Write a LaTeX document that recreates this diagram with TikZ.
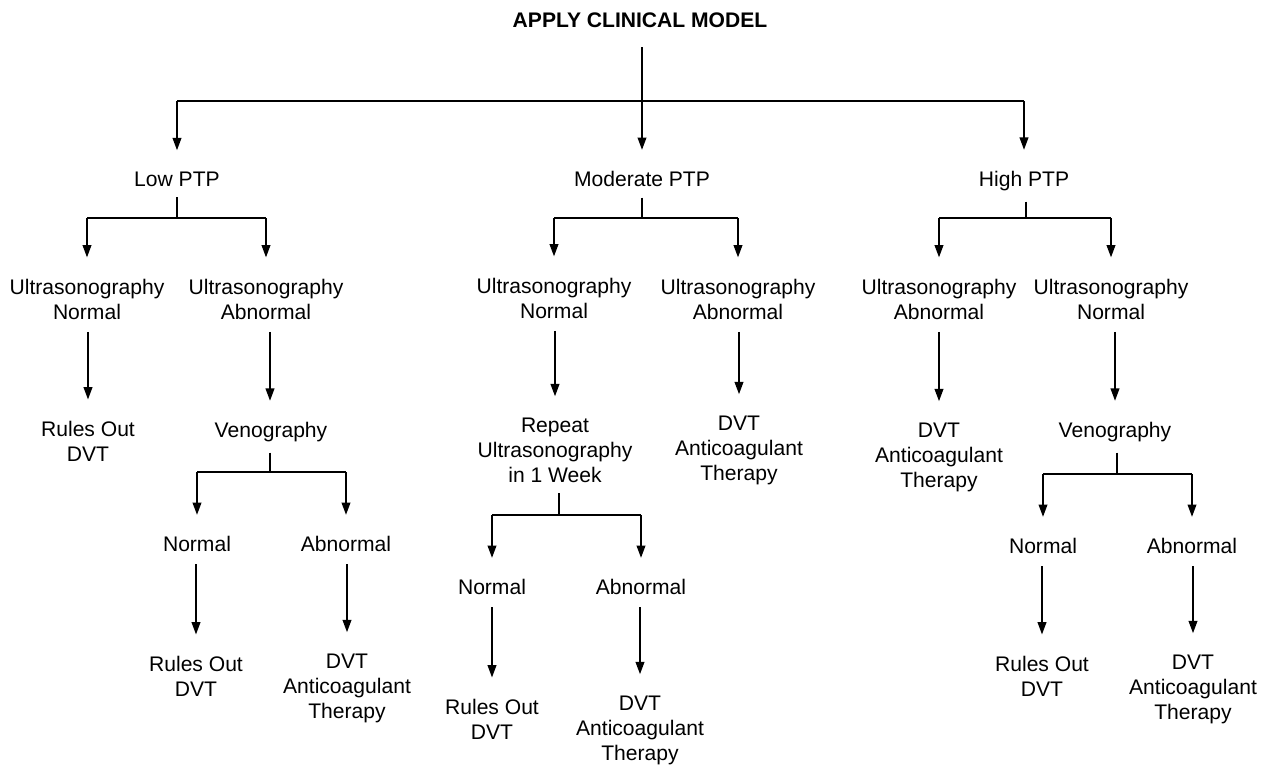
\documentclass[tikz,border=0pt]{standalone}
\usepackage{fontspec}
\setmainfont{Liberation Sans}
\usetikzlibrary{arrows.meta}
\begin{document}
\begin{tikzpicture}[x=0.02cm,y=-0.02cm,
  lbl/.style={align=center,inner sep=0pt,font=\fontsize{12}{14.2}\selectfont},
  ttl/.style={align=center,inner sep=0pt,font=\fontsize{12}{14.2}\selectfont\bfseries},
  ln/.style={line width=0.8pt},
  arr/.style={ln,-{Triangle[length=7pt,width=5pt]},shorten >=12pt},
  stem/.style={ln,shorten <=6pt}]
\useasboundingbox (0,0) rectangle (1272,767);

% nodes
\node[ttl] (title) at (640,20) {APPLY CLINICAL MODEL};
\node[lbl] (low) at (177,179) {Low PTP};
\node[lbl] (mod) at (642,179) {Moderate PTP};
\node[lbl] (high) at (1024,181) {High PTP};

\node[lbl] (lun) at (87,299) {Ultrasonography\\Normal};
\node[lbl] (lua) at (266,299) {Ultrasonography\\Abnormal};
\node[lbl] (mun) at (554,298) {Ultrasonography\\Normal};
\node[lbl] (mua) at (738,299) {Ultrasonography\\Abnormal};
\node[lbl] (hua) at (939,299) {Ultrasonography\\Abnormal};
\node[lbl] (hun) at (1111,299) {Ultrasonography\\Normal};

\node[lbl] (lro) at (88,441) {Rules Out\\DVT};
\node[lbl] (lven) at (271,432) {Venography};
\node[lbl] (mrep) at (555,450) {Repeat\\Ultrasonography\\in 1 Week};
\node[lbl] (mdvt) at (739,450) {DVT\\Anticoagulant\\Therapy};
\node[lbl] (hdvt) at (939,457) {DVT\\Anticoagulant\\Therapy};
\node[lbl] (hven) at (1115,432) {Venography};

\node[lbl] (lvn) at (197,544) {Normal};
\node[lbl] (lva) at (346,544) {Abnormal};
\node[lbl] (mrn) at (492,587) {Normal};
\node[lbl] (mra) at (641,587) {Abnormal};
\node[lbl] (hvn) at (1043,546) {Normal};
\node[lbl] (hva) at (1192,546) {Abnormal};

\node[lbl] (lvro) at (196,676) {Rules Out\\DVT};
\node[lbl] (lvd) at (347,688) {DVT\\Anticoagulant\\Therapy};
\node[lbl] (mrro) at (492,719) {Rules Out\\DVT};
\node[lbl] (mrd) at (640,730) {DVT\\Anticoagulant\\Therapy};
\node[lbl] (hvro) at (1042,676) {Rules Out\\DVT};
\node[lbl] (hvd) at (1193,689) {DVT\\Anticoagulant\\Therapy};

% branch points
\coordinate (b0) at (642,101);
\coordinate (bl) at (177,218);
\coordinate (bm) at (642,218);
\coordinate (bh) at (1026,218);
\coordinate (blv) at (270,472);
\coordinate (bmr) at (559,515);
\coordinate (bhv) at (1117,474);

% top level
\draw[ln,shorten <=11pt] (title.south -| b0) -- (b0);
\draw[ln] (low |- b0) -- (high |- b0);
\draw[arr] (low |- b0) -- (low.north);
\draw[arr] (b0) -- (mod.north -| b0);
\draw[arr] (high |- b0) -- (high.north);

% low branch
\draw[stem] (low.south) -- (bl);
\draw[ln] (lun |- bl) -- (lua |- bl);
\draw[arr] (lun |- bl) -- (lun.north);
\draw[arr] (lua |- bl) -- (lua.north);
\draw[arr,shorten <=7pt] (lun.south -| lro) -- (lro.north);
\draw[arr,shorten <=7pt] (lua.south -| blv) -- (lven.north -| blv);
\draw[stem] (lven.south -| blv) -- (blv);
\draw[ln] (lvn |- blv) -- (lva |- blv);
\draw[arr] (lvn |- blv) -- (lvn.north);
\draw[arr] (lva |- blv) -- (lva.north);
\draw[arr,shorten <=7pt] (lvn.south -| lvro) -- (lvro.north);
\draw[arr,shorten <=7pt] (lva.south -| lvd) -- (lvd.north);

% moderate branch
\draw[stem] (mod.south -| bm) -- (bm);
\draw[ln] (mun |- bm) -- (mua |- bm);
\draw[arr] (mun |- bm) -- (mun.north);
\draw[arr] (mua |- bm) -- (mua.north);
\draw[arr,shorten <=7pt] (mun.south -| mrep) -- (mrep.north);
\draw[arr,shorten <=7pt] (mua.south -| mdvt) -- (mdvt.north);
\draw[stem] (mrep.south -| bmr) -- (bmr);
\draw[ln] (mrn |- bmr) -- (mra |- bmr);
\draw[arr] (mrn |- bmr) -- (mrn.north);
\draw[arr] (mra |- bmr) -- (mra.north);
\draw[arr,shorten <=7pt] (mrn.south -| mrro) -- (mrro.north);
\draw[arr,shorten <=7pt] (mra.south -| mrd) -- (mrd.north);

% high branch
\draw[stem] (high.south -| bh) -- (bh);
\draw[ln] (hua |- bh) -- (hun |- bh);
\draw[arr] (hua |- bh) -- (hua.north);
\draw[arr] (hun |- bh) -- (hun.north);
\draw[arr,shorten <=7pt] (hua.south -| hdvt) -- (hdvt.north);
\draw[arr,shorten <=7pt] (hun.south -| hven) -- (hven.north);
\draw[stem] (hven.south -| bhv) -- (bhv);
\draw[ln] (hvn |- bhv) -- (hva |- bhv);
\draw[arr] (hvn |- bhv) -- (hvn.north);
\draw[arr] (hva |- bhv) -- (hva.north);
\draw[arr,shorten <=7pt] (hvn.south -| hvro) -- (hvro.north);
\draw[arr,shorten <=7pt] (hva.south -| hvd) -- (hvd.north);
\end{tikzpicture}
\end{document}
